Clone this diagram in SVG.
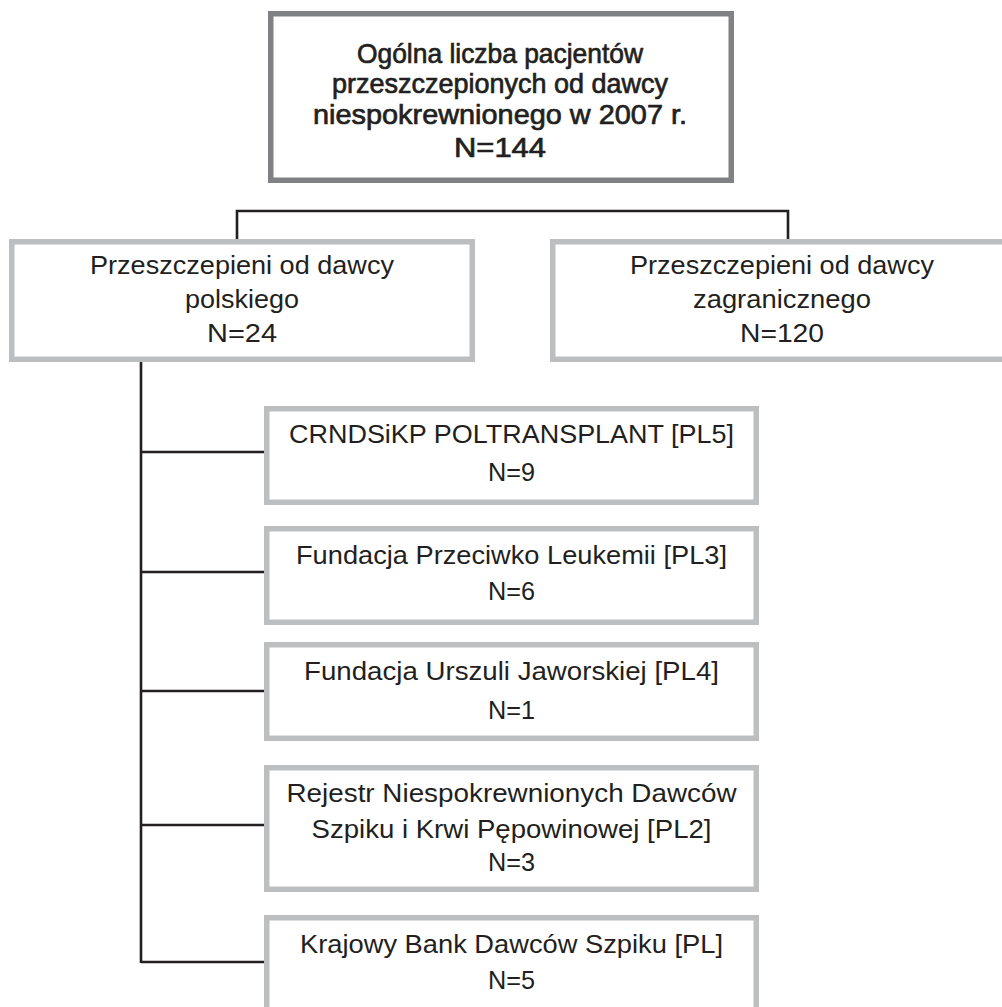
<svg xmlns="http://www.w3.org/2000/svg" width="1002" height="1007" viewBox="0 0 1002 1007">
<style>
.bg{fill:#ffffff}
.top{fill:#ffffff;stroke:#808184;stroke-width:5.5}
.box{fill:#ffffff;stroke:#bcbec0;stroke-width:5.5}
.conn{fill:none;stroke:#231f20;stroke-width:2.6}
text{font-family:"Liberation Sans",Arial,sans-serif;fill:#231f20;text-anchor:middle}
.t0{font-size:28px;stroke:#231f20;stroke-width:0.7}
.t1{font-size:26px}
.t2{font-size:25px}
</style>
<rect class="bg" x="0" y="0" width="1002" height="1007"/>
<g id="connectors">
<path class="conn" d="M237,240 V211 H788 V240"/>
<path class="conn" d="M141,361 V963"/>
<path class="conn" d="M141,452 H266"/>
<path class="conn" d="M141,572 H266"/>
<path class="conn" d="M141,691 H266"/>
<path class="conn" d="M141,825 H266"/>
<path class="conn" d="M141,962 H266"/>
</g>
<g id="node-total">
<rect class="top" x="270.75" y="13.75" width="460.5" height="166.5"/>
<text class="t0" x="500" y="63" textLength="286" lengthAdjust="spacingAndGlyphs">Ogólna liczba pacjentów</text>
<text class="t0" x="500" y="93" textLength="336" lengthAdjust="spacingAndGlyphs">przeszczepionych od dawcy</text>
<text class="t0" x="500" y="124" textLength="374" lengthAdjust="spacingAndGlyphs">niespokrewnionego w 2007 r.</text>
<text class="t0" x="500" y="157" textLength="92" lengthAdjust="spacingAndGlyphs">N=144</text>
</g>
<g id="node-polish">
<rect class="box" x="11.75" y="241.75" width="460.5" height="117.5"/>
<text class="t1" x="242" y="274" textLength="304" lengthAdjust="spacingAndGlyphs">Przeszczepieni od dawcy</text>
<text class="t1" x="242" y="308" textLength="114" lengthAdjust="spacingAndGlyphs">polskiego</text>
<text class="t1" x="242" y="342" textLength="70" lengthAdjust="spacingAndGlyphs">N=24</text>
</g>
<g id="node-foreign">
<rect class="box" x="552.75" y="241.75" width="460.5" height="117.5"/>
<text class="t1" x="782" y="274" textLength="304" lengthAdjust="spacingAndGlyphs">Przeszczepieni od dawcy</text>
<text class="t1" x="782" y="308" textLength="178" lengthAdjust="spacingAndGlyphs">zagranicznego</text>
<text class="t1" x="782" y="342" textLength="84" lengthAdjust="spacingAndGlyphs">N=120</text>
</g>
<g id="node-pl5">
<rect class="box" x="266.75" y="408.75" width="489.5" height="93.5"/>
<text class="t2" x="511.5" y="443" textLength="445" lengthAdjust="spacingAndGlyphs">CRNDSiKP POLTRANSPLANT [PL5]</text>
<text class="t2" x="511.5" y="481" textLength="47" lengthAdjust="spacingAndGlyphs">N=9</text>
</g>
<g id="node-pl3">
<rect class="box" x="266.75" y="528.75" width="489.5" height="93.5"/>
<text class="t2" x="511.5" y="564" textLength="431" lengthAdjust="spacingAndGlyphs">Fundacja Przeciwko Leukemii [PL3]</text>
<text class="t2" x="511.5" y="600" textLength="47" lengthAdjust="spacingAndGlyphs">N=6</text>
</g>
<g id="node-pl4">
<rect class="box" x="266.75" y="644.75" width="489.5" height="93.5"/>
<text class="t2" x="511.5" y="680" textLength="415" lengthAdjust="spacingAndGlyphs">Fundacja Urszuli Jaworskiej [PL4]</text>
<text class="t2" x="511.5" y="719" textLength="47" lengthAdjust="spacingAndGlyphs">N=1</text>
</g>
<g id="node-pl2">
<rect class="box" x="266.75" y="767.75" width="489.5" height="121.5"/>
<text class="t2" x="511.5" y="802" textLength="450" lengthAdjust="spacingAndGlyphs">Rejestr Niespokrewnionych Dawców</text>
<text class="t2" x="511.5" y="838" textLength="400" lengthAdjust="spacingAndGlyphs">Szpiku i Krwi Pępowinowej [PL2]</text>
<text class="t2" x="511.5" y="871" textLength="47" lengthAdjust="spacingAndGlyphs">N=3</text>
</g>
<g id="node-pl">
<rect class="box" x="266.75" y="917.75" width="489.5" height="120"/>
<text class="t2" x="511.5" y="953" textLength="423" lengthAdjust="spacingAndGlyphs">Krajowy Bank Dawców Szpiku [PL]</text>
<text class="t2" x="511.5" y="989" textLength="47" lengthAdjust="spacingAndGlyphs">N=5</text>
</g>
</svg>
